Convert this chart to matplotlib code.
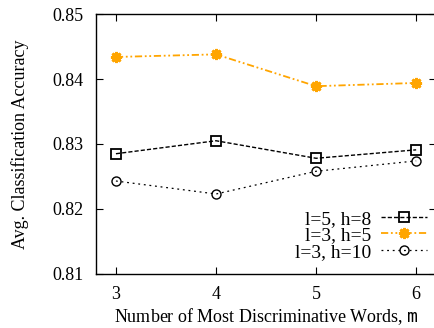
import matplotlib
matplotlib.use('Agg')
import matplotlib.pyplot as plt

words = [3, 4, 5, 6]
acc_l5_h8 = [0.8285, 0.8305, 0.8278, 0.8291]
acc_l3_h5 = [0.8434, 0.8438, 0.8389, 0.8394]
acc_l3_h10 = [0.8243, 0.8223, 0.8258, 0.8274]
labels = ['l=5, h=8', 'l=3, h=5', 'l=3, h=10']

plt.rcParams['font.family'] = ['Liberation Serif', 'DejaVu Serif']
plt.rcParams['font.size'] = 13

fig = plt.figure(figsize=(4.34, 3.28), dpi=100)
ax = fig.add_axes([0.221, 0.165, 0.784, 0.792])

ax.plot(words, acc_l5_h8, color='black', linestyle=(0, (3, 1.5)), linewidth=1,
        marker='s', markersize=7.5, markerfacecolor='none', markeredgewidth=1.3,
        label=labels[0])
ax.plot(words, acc_l3_h5, color='#FFA500', linestyle=(0, (4, 1.5, 1, 1.5, 1, 1.5)), linewidth=1.3,
        marker=(8, 2, 0), markersize=8, markeredgewidth=2,
        label=labels[1])
ax.plot(words, acc_l3_h10, color='black', linestyle=(0, (1.5, 3)), linewidth=0.9,
        marker='o', markersize=6.5, markerfacecolor='none', markeredgewidth=1,
        label=labels[2])

ax.set_xlim(2.8, 6.2)
ax.set_ylim(0.81, 0.85)
ax.set_xticks(words)
ax.set_yticks([0.81, 0.82, 0.83, 0.84, 0.85])
ax.tick_params(direction='in', top=True, right=True, length=5, pad=9)
for s in ax.spines.values():
    s.set_linewidth(1)

ax.set_xlabel('Number of Most Discriminative Words, $\\mathtt{m}$', labelpad=2)
ax.set_ylabel('Avg. Classification Accuracy', labelpad=17)

ax.legend(loc='lower right', frameon=False, markerfirst=False, fontsize=14,
          handlelength=2.4, handletextpad=0.5, labelspacing=-0.05,
          borderpad=0, borderaxespad=0, bbox_to_anchor=(0.974, 0.05))

fig.savefig('out.png', dpi=100)
